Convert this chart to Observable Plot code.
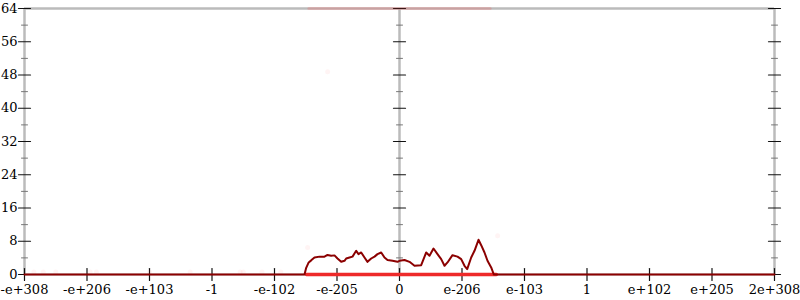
<!DOCTYPE html>
<html>
<head>
<meta charset="utf-8">
<script src="https://cdn.jsdelivr.net/npm/d3@7"></script>
<script src="https://cdn.jsdelivr.net/npm/@observablehq/plot@0.6"></script>
<style>
  html, body { margin: 0; padding: 0; background: white; }
  #chart { width: 800px; height: 300px; }
</style>
</head>
<body>
<div id="chart"></div>
<script>
// x positions are in tick-index units (-6 .. 6), one unit per labelled tick
const xTickPositions = [-6, -5, -4, -3, -2, -1, 0, 1, 2, 3, 4, 5, 6];
const xTickLabels = ["-e+308", "-e+206", "-e+103", "-1", "-e-102", "-e-205", "0", "e-206", "e-103", "1", "e+102", "e+205", "2e+308"];
const yMajorTicks = [0, 8, 16, 24, 32, 40, 48, 56, 64];
const yMinorTicks = [4, 12, 20, 28, 36, 44, 52, 60];
const axisLinesX = [-6, 0, 6];

// main histogram line (dark red)
const seriesX = [-6, -1.52, -1.493, -1.453, -1.413, -1.36, -1.28, -1.2, -1.152, -1.093, -1.04, -0.992, -0.933, -0.88, -0.853, -0.8, -0.752, -0.693, -0.656, -0.613, -0.56, -0.512, -0.453, -0.4, -0.352, -0.293, -0.24, -0.192, -0.112, -0.032, 0, 0.08, 0.16, 0.24, 0.347, 0.427, 0.48, 0.544, 0.608, 0.667, 0.72, 0.768, 0.848, 0.928, 0.987, 1.04, 1.083, 1.147, 1.2, 1.264, 1.307, 1.36, 1.408, 1.467, 1.509, 6];
const seriesY = [0, 0, 1.6, 2.9, 3.4, 4.1, 4.3, 4.3, 4.7, 4.5, 4.6, 3.85, 3.05, 3.3, 3.85, 4.1, 4.3, 5.7, 4.9, 5.3, 4.1, 3.05, 3.85, 4.3, 4.9, 5.3, 4.1, 3.5, 3.3, 3.05, 3.3, 3.5, 3.05, 2.1, 2.25, 5.3, 4.5, 6.25, 4.9, 3.7, 2.1, 2.9, 4.65, 4.3, 3.7, 2.1, 1.3, 4.1, 5.7, 8.35, 7.05, 5.3, 3.3, 1.7, 0, 0];

// faint red secondary series
const redBaseX = [-1.49, 1.55];
const redBaseY = [0, 0];
const pinkTopX = [-1.45, 1.45];
const pinkTopY = [64, 64];
const faintDotX = [-1.15, -1.47, 1.57, -5.85, -5.7, -5.5, -4.95, -4.85, -4.0, -3.35, -2.55, -2.5, -2.2, -1.9];
const faintDotY = [48.8, 6.5, 9.3, 0.6, 0.6, 0.6, 0.6, 0.6, 0.6, 0.6, 0.6, 0.6, 0.6, 0.6];

const series = seriesX.map((x, i) => ({x, y: seriesY[i]}));
const redBase = redBaseX.map((x, i) => ({x, y: redBaseY[i]}));
const pinkTop = pinkTopX.map((x, i) => ({x, y: pinkTopY[i]}));
const faintDots = faintDotX.map((x, i) => ({x, y: faintDotY[i]}));
const xTicks = xTickPositions.map((x, i) => ({x, label: xTickLabels[i]}));

const lineShape = {
  draw(context, l) {
    context.moveTo(0, 0);
    context.lineTo(0, -l);
  }
};

const yTickMarks = [];
for (const ax of axisLinesX) {
  yTickMarks.push(Plot.vector(yMajorTicks, {x: () => ax, y: d => d, length: 12, rotate: 90, anchor: "middle", shape: lineShape, stroke: "#111", strokeWidth: 1.2}));
  yTickMarks.push(Plot.vector(yMinorTicks, {x: () => ax, y: d => d, length: 6, rotate: 90, anchor: "middle", shape: lineShape, stroke: "#777", strokeWidth: 1}));
}

const chart = Plot.plot({
  width: 800,
  height: 300,
  marginLeft: 24,
  marginRight: 26,
  marginTop: 8,
  marginBottom: 26,
  x: {domain: [-6, 6], axis: null},
  y: {domain: [0, 64], axis: null},
  style: {fontFamily: "DejaVu Serif", fontSize: "13px", background: "white", color: "black"},
  marks: [
    Plot.ruleX(axisLinesX, {x: d => d, y1: 0, y2: 64, stroke: "#bbb", strokeWidth: 2.5}),
    Plot.ruleY([64], {y: d => d, x1: -6, x2: 6, stroke: "#bbb", strokeWidth: 2.5}),
    Plot.ruleY([0], {y: d => d, x1: -6, x2: 6, stroke: "#bbb", strokeWidth: 2}),
    ...yTickMarks,
    Plot.vector(xTicks, {x: "x", y: () => 0, length: 12, rotate: 0, anchor: "middle", shape: lineShape, stroke: "#111", strokeWidth: 1.2}),
    Plot.text(xTicks, {x: "x", y: () => 0, text: "label", dy: 15, fill: "black", fontSize: 13}),
    Plot.text(yMajorTicks, {x: () => -6, y: d => d, text: d => String(d), dx: -7, textAnchor: "end", fill: "black", fontSize: 13}),
    Plot.dot(faintDots, {x: "x", y: "y", r: 2.5, fill: "#f44", fillOpacity: 0.06, stroke: "none"}),
    Plot.line(pinkTop, {x: "x", y: "y", stroke: "#f33", strokeOpacity: 0.18, strokeWidth: 3}),
    Plot.line(redBase, {x: "x", y: "y", stroke: "#ee2a2a", strokeWidth: 3.5}),
    Plot.line(series, {x: "x", y: "y", stroke: "#8b0000", strokeWidth: 2})
  ]
});
document.getElementById("chart").appendChild(chart);
</script>
</body>
</html>
